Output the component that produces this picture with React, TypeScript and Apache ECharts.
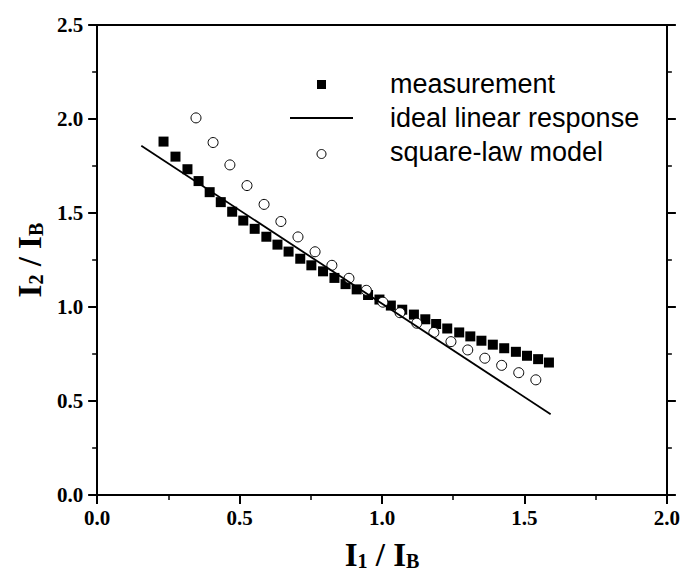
import React, { useEffect, useRef } from 'react';
import * as echarts from 'echarts';

// measurement (filled squares)
const measX = [0.233, 0.275, 0.317, 0.356, 0.395, 0.434, 0.474, 0.513, 0.553, 0.594, 0.633, 0.672, 0.713, 0.752, 0.793, 0.833, 0.872, 0.911, 0.951, 0.991, 1.031, 1.071, 1.112, 1.152, 1.190, 1.229, 1.271, 1.310, 1.349, 1.389, 1.429, 1.470, 1.509, 1.548, 1.586];
const measY = [1.880, 1.800, 1.733, 1.670, 1.611, 1.558, 1.507, 1.460, 1.416, 1.374, 1.332, 1.295, 1.257, 1.222, 1.190, 1.155, 1.122, 1.094, 1.064, 1.040, 1.008, 0.986, 0.960, 0.935, 0.910, 0.886, 0.865, 0.844, 0.821, 0.800, 0.781, 0.762, 0.741, 0.723, 0.705];

// square-law model (open circles)
const modelX = [0.347, 0.407, 0.466, 0.526, 0.586, 0.645, 0.705, 0.765, 0.824, 0.884, 0.945, 1.003, 1.063, 1.122, 1.182, 1.242, 1.301, 1.361, 1.420, 1.480, 1.540];
const modelY = [2.006, 1.875, 1.756, 1.646, 1.546, 1.455, 1.373, 1.294, 1.222, 1.153, 1.089, 1.026, 0.970, 0.914, 0.865, 0.816, 0.772, 0.728, 0.690, 0.651, 0.613];

// ideal linear response (line end points)
const lineX = [0.155, 1.592];
const lineY = [1.858, 0.43];

const legendLabels = ['measurement', 'ideal linear response', 'square-law model'];

const SERIF = '"Liberation Serif", "Times New Roman", Times, serif';
const SANS = '"Liberation Sans", Arial, Helvetica, sans-serif';

const zip = (a: number[], b: number[]) => a.map((v, i) => [v, b[i]]);

const titleRich = {
  a: { fontFamily: SERIF, fontWeight: 'bold', fontSize: 33, lineHeight: 33, color: '#000', verticalAlign: 'top' },
  s: { fontFamily: SERIF, fontWeight: 'bold', fontSize: 20, lineHeight: 20, color: '#000', verticalAlign: 'bottom', padding: [18, 0, 0, 0] },
};

export default function App() {
  const ref = useRef<HTMLDivElement>(null);
  useEffect(() => {
    const chart = echarts.init(ref.current!, null, { renderer: 'svg' });
    const lineStyle = { color: '#000', width: 2 };
    const labelStyle = {
      fontFamily: SERIF,
      fontWeight: 'bold' as const,
      fontSize: 21,
      color: '#000',
      formatter: (v: number) => v.toFixed(1),
    };
    const minorTick = { show: true, splitNumber: 2, length: 5, lineStyle: { color: '#000', width: 1.5 } };
    const option: any = {
      animation: false,
      backgroundColor: '#fff',
      grid: { left: 93, right: 13, top: 25, bottom: 74, containLabel: false },
      xAxis: [
        {
          type: 'value', min: 0, max: 2, interval: 0.5, position: 'bottom',
          axisLine: { show: true, onZero: false, lineStyle },
          axisTick: { show: true, inside: false, length: 9, lineStyle },
          minorTick,
          splitLine: { show: false },
          axisLabel: { ...labelStyle, margin: 12 },
          name: '{a|I}{s|1}{a| / I}{s|B}',
          nameLocation: 'middle',
          nameGap: 23,
          nameTextStyle: { rich: titleRich },
        },
        {
          type: 'value', min: 0, max: 2, interval: 0.5, position: 'top',
          axisLine: { show: true, onZero: false, lineStyle },
          axisTick: { show: false },
          splitLine: { show: false },
          axisLabel: { show: false },
        },
      ],
      yAxis: [
        {
          type: 'value', min: 0, max: 2.5, interval: 0.5, position: 'left',
          axisLine: { show: true, onZero: false, lineStyle },
          axisTick: { show: true, inside: false, length: 9, lineStyle },
          minorTick,
          splitLine: { show: false },
          axisLabel: { ...labelStyle, margin: 14 },
          name: '{a|I}{s|2}{a| / I}{s|B}',
          nameLocation: 'middle',
          nameRotate: 90,
          nameGap: 48,
          nameTextStyle: { rich: titleRich },
        },
        {
          type: 'value', min: 0, max: 2.5, interval: 0.5, position: 'right',
          axisLine: { show: true, onZero: false, lineStyle },
          axisTick: { show: true, inside: false, length: 9, lineStyle },
          minorTick,
          splitLine: { show: false },
          axisLabel: { show: false },
        },
      ],
      series: [
        {
          name: legendLabels[0],
          type: 'scatter',
          data: zip(measX, measY),
          symbol: 'rect',
          symbolSize: 10,
          itemStyle: { color: '#000', opacity: 1 },
        },
        {
          name: legendLabels[1],
          type: 'line',
          data: zip(lineX, lineY),
          symbol: 'none',
          lineStyle: { color: '#000', width: 1.8 },
        },
        {
          name: legendLabels[2],
          type: 'scatter',
          data: zip(modelX, modelY),
          symbol: 'circle',
          symbolSize: 10,
          itemStyle: { color: '#fff', borderColor: '#000', borderWidth: 1, opacity: 1 },
        },
      ],
      graphic: [
        { type: 'rect', shape: { x: 317, y: 80, width: 9, height: 9 }, style: { fill: '#000' } },
        { type: 'line', shape: { x1: 290, y1: 118, x2: 353, y2: 118 }, style: { stroke: '#000', lineWidth: 1.8 } },
        { type: 'circle', shape: { cx: 321.5, cy: 154, r: 4.5 }, style: { fill: '#fff', stroke: '#000', lineWidth: 1 } },
        ...legendLabels.map((t, i) => ({
          type: 'text',
          x: 390,
          y: [84, 118, 152][i],
          style: { text: t, fontFamily: SANS, fontSize: 27, fill: '#000', verticalAlign: 'middle' },
        })),
      ],
    };
    chart.setOption(option);
    return () => chart.dispose();
  }, []);
  return <div ref={ref} style={{ position: 'absolute', left: 0, top: 0, width: 683, height: 576 }} />;
}
